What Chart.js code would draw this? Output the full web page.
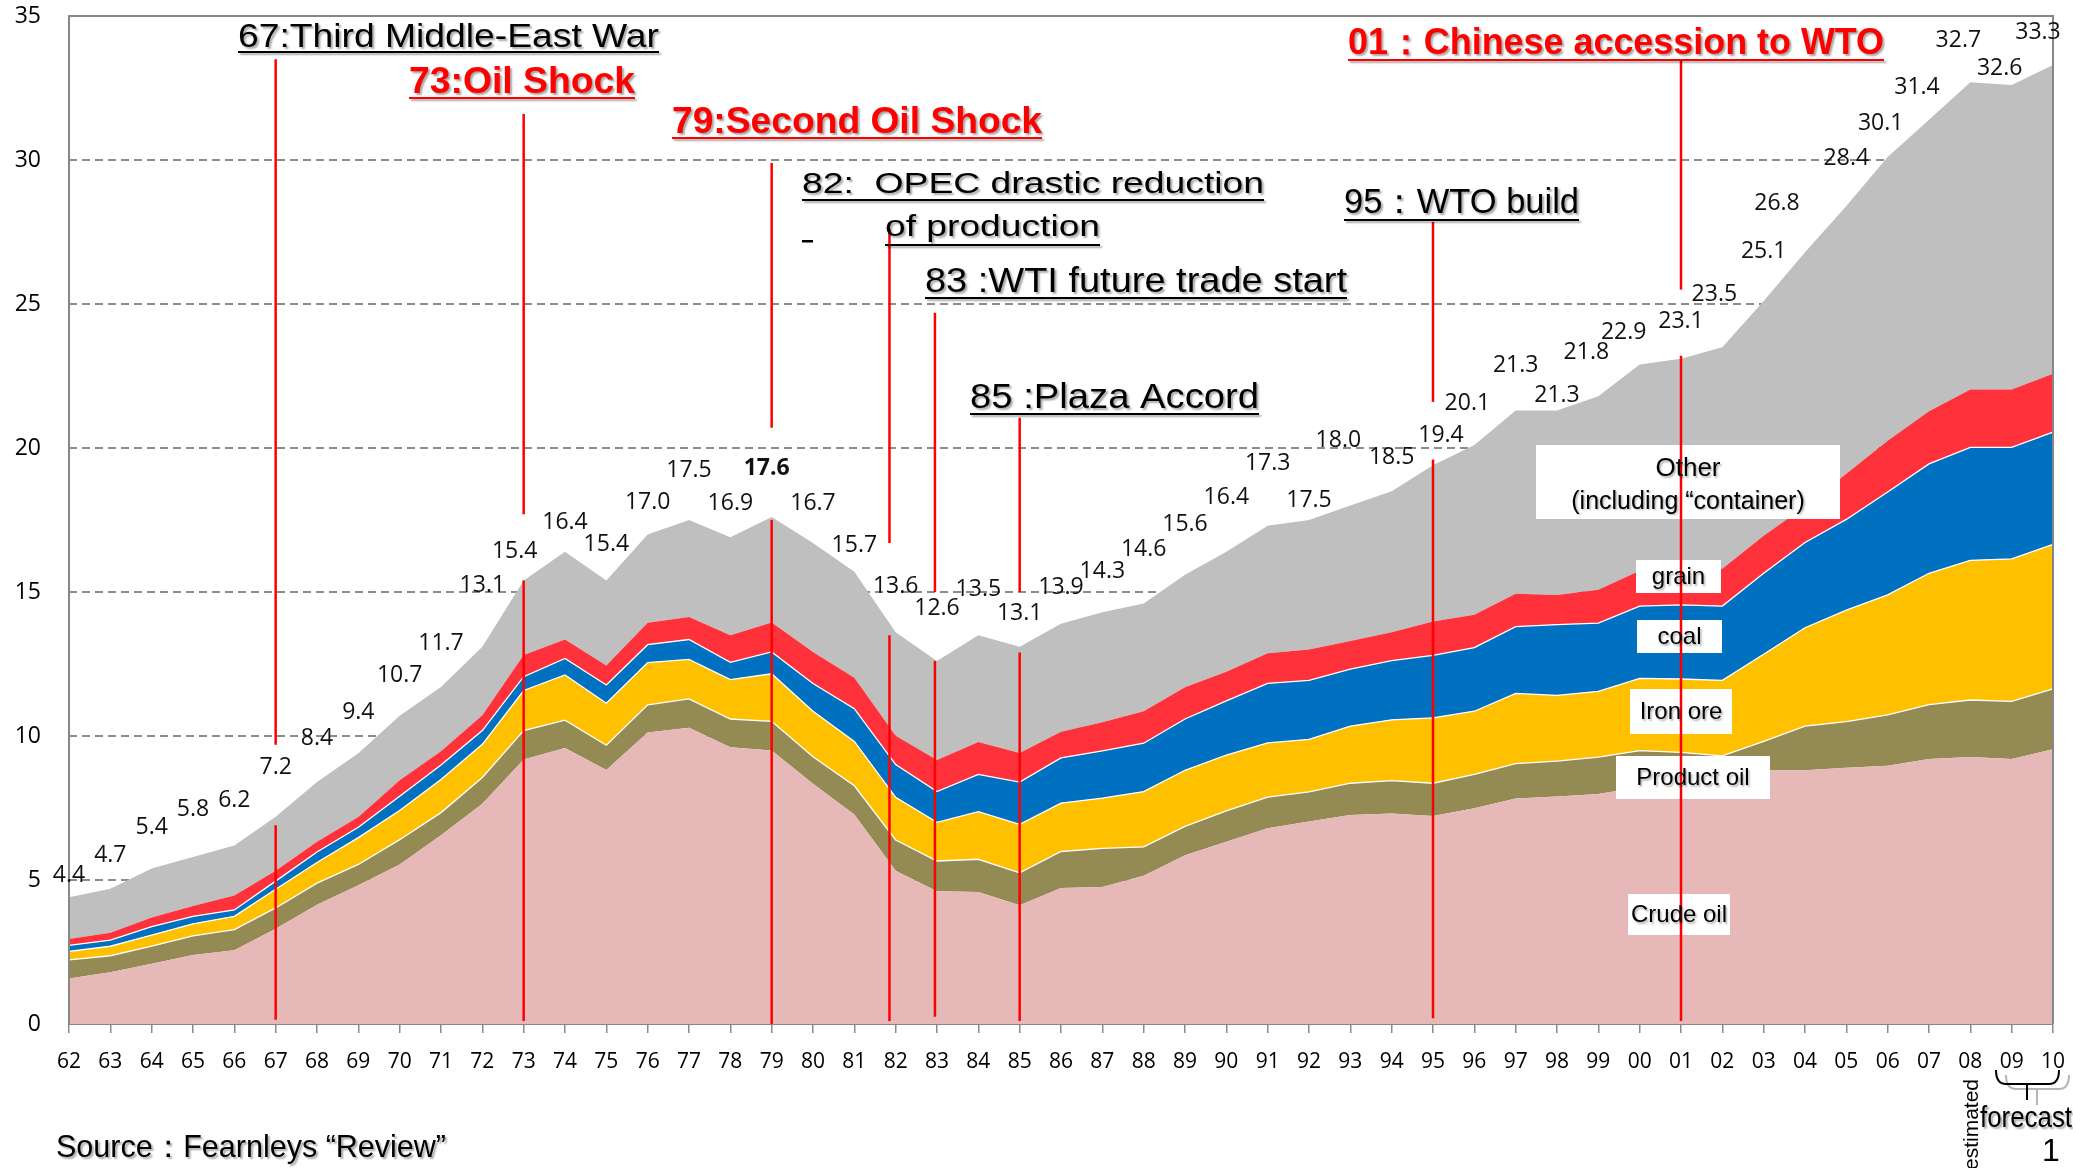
<!DOCTYPE html>
<html>
<head>
<meta charset="utf-8">
<script src="https://cdn.jsdelivr.net/npm/chart.js@4.4.0/dist/chart.umd.min.js"></script>
<style>
  html, body { margin: 0; padding: 0; background: #fff; overflow: hidden; }
  canvas { display: block; }
</style>
</head>
<body>
<canvas id="chart" width="2073" height="1168"></canvas>
<script>
// ── DATA ──
const years = ['62','63','64','65','66','67','68','69','70','71','72','73','74','75','76','77','78','79','80','81',
  '82','83','84','85','86','87','88','89','90','91','92','93','94','95','96','97','98','99','00','01',
  '02','03','04','05','06','07','08','09','10'];

const crudeOil = [1.58,1.80,2.09,2.40,2.56,3.31,4.14,4.82,5.54,6.55, 7.65,9.18,9.58,8.82,10.12,10.29,9.61,9.50,8.34,7.27,
  5.32,4.61,4.58,4.12,4.72,4.76,5.15,5.86,6.33,6.80, 7.03,7.26,7.31,7.22,7.49,7.83,7.90,7.99,8.22,8.29,
  8.40,8.81,8.81,8.90,8.97,9.20,9.27,9.20,9.54];
const productOil = [0.65,0.57,0.61,0.66,0.72,0.72,0.75,0.72,0.86,0.79, 0.91,1.01,0.97,0.86,0.96,1.00,0.98,1.01,0.94,1.00,
  1.07,1.05,1.14,1.13,1.27,1.34,1.00,1.00,1.07,1.08, 1.03,1.10,1.14,1.14,1.18,1.21,1.23,1.28,1.27,1.14,
  0.91,1.00,1.53,1.60,1.76,1.89,1.98,2.00,2.10];
const ironOre = [0.29,0.33,0.39,0.42,0.46,0.65,0.72,0.93,1.01,1.15, 1.15,1.39,1.57,1.46,1.47,1.37,1.37,1.65,1.58,1.54,
  1.48,1.34,1.65,1.68,1.68,1.74,1.92,1.95,1.94,1.88, 1.82,1.98,2.11,2.27,2.19,2.44,2.28,2.28,2.51,2.55,
  2.62,3.03,3.42,3.87,4.17,4.56,4.85,4.95,5.01];
const coal = [0.21,0.21,0.29,0.26,0.22,0.28,0.36,0.36,0.50,0.50, 0.48,0.48,0.57,0.63,0.62,0.69,0.60,0.76,0.96,1.14,
  1.14,1.07,1.30,1.47,1.57,1.64,1.68,1.78,1.88,2.07, 2.05,1.98,2.06,2.17,2.21,2.32,2.46,2.37,2.51,2.57,
  2.58,2.81,2.96,3.15,3.57,3.80,3.92,3.87,3.90];
const grain = [0.22,0.26,0.32,0.36,0.50,0.36,0.36,0.36,0.55,0.48, 0.53,0.75,0.66,0.68,0.76,0.78,0.94,1.02,1.10,1.07,
  1.00,1.10,1.12,1.01,0.91,1.00,1.11,1.10,1.01,1.04, 1.07,0.98,0.98,1.18,1.14,1.14,1.03,1.16,1.23,1.19,
  1.30,1.30,1.25,1.59,1.78,1.83,2.01,2.01,2.03];
const other = [1.45,1.53,1.70,1.70,1.74,1.88,2.07,2.21,2.24,2.23, 2.38,2.59,3.05,2.95,3.07,3.37,3.40,3.66,3.78,3.68,
  3.59,3.43,3.71,3.69,3.75,3.82,3.74,3.91,4.17,4.43, 4.50,4.70,4.90,5.42,5.89,6.36,6.40,6.72,7.16,7.36,
  7.69,8.15,8.83,9.29,9.85,10.12,10.67,10.57,10.72];
const totals = [4.4,4.7,5.4,5.8,6.2,7.2,8.4,9.4,10.7,11.7, 13.1,15.4,16.4,15.4,17.0,17.5,16.9,17.6,16.7,15.7,
  13.6,12.6,13.5,13.1,13.9,14.3,14.6,15.6,16.4,17.3, 17.5,18.0,18.5,19.4,20.1,21.3,21.3,21.8,22.9,23.1,
  23.5,25.1,26.8,28.4,30.1,31.4,32.7,32.6,33.3];

const seriesNames = ['Crude oil', 'Product oil', 'Iron ore', 'coal', 'grain', 'Other'];
const seriesColors = ['#E6B8B7', '#948A54', '#FFC000', '#0070C0', '#FF313B', '#BFBFBF'];

const FONT_NARROW = '"Liberation Sans Narrow", "Liberation Sans", Arial, sans-serif';
const FONT_ARIAL = '"Liberation Sans", Arial, sans-serif';

function fitText(ctx, str, left, base, width, font, color, ul) {
  ctx.save();
  ctx.font = font;
  const w = ctx.measureText(str).width;
  ctx.shadowColor = 'rgba(0,0,0,0.35)';
  ctx.shadowOffsetX = 2; ctx.shadowOffsetY = 2; ctx.shadowBlur = 2;
  ctx.fillStyle = color;
  ctx.textAlign = 'left'; ctx.textBaseline = 'alphabetic';
  ctx.translate(left, base);
  ctx.scale(width / w, 1);
  ctx.fillText(str, 0, 0);
  ctx.restore();
  if (ul) {
    ctx.save();
    ctx.shadowColor = 'rgba(0,0,0,0.35)';
    ctx.shadowOffsetX = 2; ctx.shadowOffsetY = 2; ctx.shadowBlur = 2;
    ctx.fillStyle = color;
    ctx.fillRect(left, base + ul, width, 2);
    ctx.restore();
  }
}

// ── ANNOTATION PLUGIN ──
const annotations = {
  id: 'annotations',
  afterDatasetsDraw(chart, args, o) {
    const { ctx, chartArea: a, scales: { x, y } } = chart;

    // frame
    ctx.save();
    ctx.strokeStyle = '#878787'; ctx.lineWidth = 2;
    ctx.beginPath();
    ctx.moveTo(a.left, a.bottom); ctx.lineTo(a.left, a.top);
    ctx.lineTo(a.right, a.top); ctx.lineTo(a.right, a.bottom);
    ctx.stroke();
    ctx.restore();

    // series name boxes
    ctx.save();
    o.boxes.forEach(b => {
      ctx.fillStyle = '#fff';
      ctx.fillRect(b.x0, b.y0, b.x1 - b.x0, b.y1 - b.y0);
    });
    ctx.restore();

    // event lines (upper and lower segments)
    ctx.save();
    ctx.strokeStyle = '#FF0000'; ctx.lineWidth = 2.5;
    o.lines.forEach(l => {
      const px = x.getPixelForValue(years.indexOf(l.year) + (l.dx || 0));
      l.segs.forEach(s => {
        ctx.beginPath();
        ctx.moveTo(px, y.getPixelForValue(s[0]));
        ctx.lineTo(px, y.getPixelForValue(s[1]));
        ctx.stroke();
      });
    });
    ctx.restore();

    // box texts
    ctx.save();
    ctx.fillStyle = '#000';
    ctx.textAlign = 'center'; ctx.textBaseline = 'middle';
    ctx.shadowColor = 'rgba(0,0,0,0.3)'; ctx.shadowOffsetX = 1.5; ctx.shadowOffsetY = 1.5; ctx.shadowBlur = 2;
    ctx.font = '24px ' + FONT_ARIAL;
    o.boxes.forEach(b => {
      const cx = (b.x0 + b.x1) / 2;
      if (b.lines.length === 1) ctx.fillText(b.lines[0], cx, (b.y0 + b.y1) / 2 + 1);
      else {
        ctx.font = '26px ' + FONT_ARIAL;
        ctx.fillText(b.lines[0], cx, b.y0 + 24);
        ctx.font = '25px ' + FONT_ARIAL;
        ctx.fillText(b.lines[1], cx, b.y0 + 57);
        ctx.font = '24px ' + FONT_ARIAL;
      }
    });
    ctx.restore();

    // total labels
    ctx.save();
    ctx.textAlign = 'center'; ctx.textBaseline = 'middle';
    totals.forEach((t, i) => {
      const px = x.getPixelForValue(i) + (o.labelDx[years[i]] || 0);
      const py = y.getPixelForValue(t) - o.labelLift[i];
      ctx.font = (years[i] === '79' ? 'bold ' : '') + '23px "Open Sans", sans-serif';
      ctx.fillStyle = '#111';
      ctx.fillText(t.toFixed(1), px, py);
    });
    ctx.restore();

    // event texts
    o.texts.forEach(t => fitText(ctx, t.s, t.x, t.b, t.w, t.f, t.c, t.ul));
    ctx.save(); ctx.fillStyle = '#000'; ctx.fillRect(802, 240, 11, 2.5); ctx.restore();

    // footer
    fitText(ctx, 'Source：Fearnleys “Review”', 56, 1157, 390, '32px ' + FONT_NARROW, '#000', 0);
    ctx.save();
    ctx.font = '21px ' + FONT_ARIAL; ctx.fillStyle = '#000';
    ctx.translate(1978, 1170); ctx.rotate(-Math.PI / 2);
    ctx.fillText('estimated', 0, 0);
    ctx.restore();
    fitText(ctx, 'forecast', 1980, 1127, 92, '30px ' + FONT_NARROW, '#000', 0);
    ctx.save();
    ctx.font = '32px ' + FONT_NARROW; ctx.fillStyle = '#000'; ctx.textAlign = 'center';
    ctx.fillText('1', 2051, 1161);
    ctx.restore();
    // brace under 09-10
    const brace = (dx, dy, col) => {
      ctx.save(); ctx.strokeStyle = col; ctx.lineWidth = 2;
      ctx.beginPath();
      ctx.moveTo(1996 + dx, 1070 + dy); ctx.quadraticCurveTo(1996 + dx, 1084 + dy, 2006 + dx, 1084 + dy);
      ctx.lineTo(2049 + dx, 1084 + dy); ctx.quadraticCurveTo(2059 + dx, 1084 + dy, 2059 + dx, 1070 + dy);
      ctx.moveTo(2027 + dx, 1084 + dy); ctx.lineTo(2027 + dx, 1100 + dy);
      ctx.stroke(); ctx.restore();
    };
    brace(10, 5, '#b5b5b5');
    brace(0, 0, '#000');
  }
};

const ds = [crudeOil, productOil, ironOre, coal, grain, other].map((d, i) => ({
  label: seriesNames[i],
  data: d,
  backgroundColor: seriesColors[i],
  borderColor: '#ffffff',
  borderWidth: (i >= 1 && i <= 3) ? 1.3 : 0,
  fill: i === 0 ? 'origin' : '-1',
  pointRadius: 0,
  tension: 0
}));

new Chart(document.getElementById('chart'), {
  type: 'line',
  data: { labels: years, datasets: ds },
  plugins: [annotations],
  options: {
    responsive: false, animation: false, devicePixelRatio: 1,
    layout: { padding: { top: 16, right: 20, left: 0, bottom: 0 } },
    plugins: {
      legend: { display: false }, tooltip: { enabled: false },
      annotations: {
        labelLift: [22,33,41,48,45,49,44,41,40,44, 61,29,29,36,32,50,34,49,40,26,
          46,53,46,33,36,41,54,50,54,62, 20,65,34,30,42,45,15,44,32,37,
          53,50,49,48,34,32,42,17,33],
        labelDx: { '73': -9, '79': -5, '93': -12, '95': 8, '96': -7, '99': -12, '00': -16, '02': -8,
          '04': -28, '06': -7, '07': -12, '08': -12, '09': -12, '10': -15 },
        lines: [
          { year: '67', segs: [[33.5, 9.7], [6.9, 0.15]] },
          { year: '73', segs: [[31.6, 17.7], [15.4, 0.1]] },
          { year: '79', segs: [[29.9, 20.7], [17.5, 0]] },
          { year: '82', dx: -0.15, segs: [[27.6, 16.7], [13.5, 0.1]] },
          { year: '83', dx: -0.05, segs: [[24.7, 15.0], [12.6, 0.25]] },
          { year: '85', segs: [[21.05, 15.0], [12.9, 0.1]] },
          { year: '95', segs: [[27.85, 21.6], [19.6, 0.2]] },
          { year: '01', segs: [[33.5, 25.5], [23.2, 0.1]] }
        ],
        texts: [
          { s: '67:Third Middle-East War', x: 238, b: 47, w: 421, f: '34px ' + FONT_NARROW, c: '#000', ul: 4 },
          { s: '73:Oil Shock', x: 409, b: 93, w: 226, f: 'bold 36px ' + FONT_NARROW, c: '#FF0000', ul: 4 },
          { s: '79:Second Oil Shock', x: 672, b: 133, w: 370, f: 'bold 36px ' + FONT_NARROW, c: '#FF0000', ul: 4 },
          { s: '82:  OPEC drastic reduction', x: 802, b: 193, w: 462, f: '30px ' + FONT_NARROW, c: '#000', ul: 6 },
          { s: 'of production', x: 885, b: 236, w: 215, f: '30px ' + FONT_NARROW, c: '#000', ul: 8 },
          { s: '83 :WTI future trade start', x: 925, b: 292, w: 422, f: '35px ' + FONT_NARROW, c: '#000', ul: 5 },
          { s: '85 :Plaza Accord', x: 970, b: 408, w: 289, f: '35px ' + FONT_NARROW, c: '#000', ul: 5 },
          { s: '95：WTO build', x: 1344, b: 213, w: 235, f: '35px ' + FONT_NARROW, c: '#000', ul: 6 },
          { s: '01：Chinese accession to WTO', x: 1348, b: 54, w: 536, f: 'bold 36px ' + FONT_ARIAL, c: '#FF0000', ul: 5 }
        ],
        boxes: [
          { lines: ['Other', '(including “container)'], x0: 1536, y0: 445, x1: 1840, y1: 519 },
          { lines: ['grain'], x0: 1636, y0: 560, x1: 1721, y1: 593 },
          { lines: ['coal'], x0: 1637, y0: 620, x1: 1722, y1: 653 },
          { lines: ['Iron ore'], x0: 1630, y0: 689, x1: 1732, y1: 734 },
          { lines: ['Product oil'], x0: 1616, y0: 756, x1: 1770, y1: 799 },
          { lines: ['Crude oil'], x0: 1628, y0: 894, x1: 1730, y1: 935 }
        ]
      }
    },
    scales: {
      x: {
        offset: false,
        grid: { drawOnChartArea: false, drawTicks: true, tickLength: 9, color: '#8a8a8a', lineWidth: 1.5 },
        border: { display: true, color: '#878787', width: 2 },
        ticks: { autoSkip: false, maxRotation: 0, minRotation: 0, padding: 16, color: '#000',
          font: { family: '"Open Sans", sans-serif', size: 21 } },
        afterFit: s => { s.height = 144; s.paddingLeft = 0; s.paddingRight = 0; }
      },
      y: {
        stacked: true, min: 0, max: 35,
        grid: { drawTicks: false, lineWidth: 2,
          color: c => (c.tick.value === 0 || c.tick.value === 35) ? 'rgba(0,0,0,0)' : '#8c8c8c' },
        border: { display: false, dash: [8, 5] },
        ticks: { stepSize: 5, padding: 28, color: '#000',
          font: { family: '"Open Sans", sans-serif', size: 23 } },
        afterFit: s => { s.width = 69; s.paddingTop = 0; s.paddingBottom = 0; }
      }
    }
  }
});
</script>
</body>
</html>
